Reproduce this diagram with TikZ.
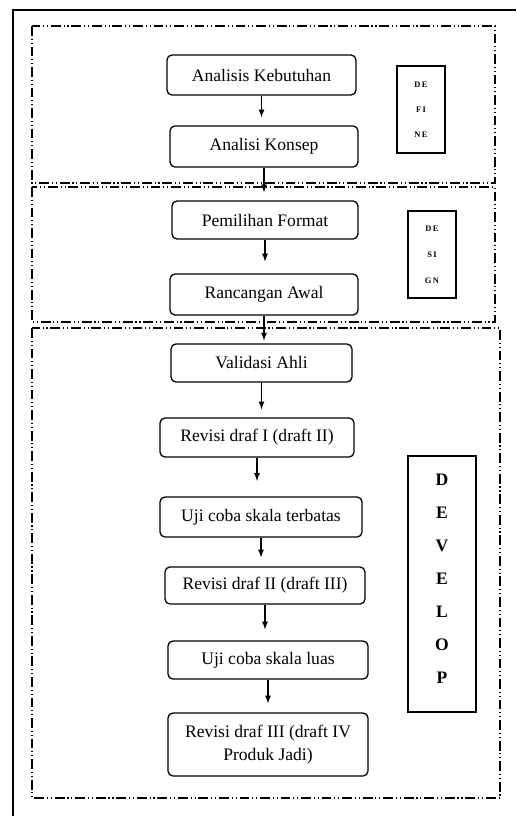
\documentclass[tikz,border=0pt]{standalone}
\usepackage{fontspec}
\setmainfont{Liberation Serif}
\usetikzlibrary{arrows,positioning}
\newcommand{\pxu}{0.025cm}

\begin{document}
\begin{tikzpicture}[x=0.025cm,y=-0.025cm,>=latex,
    stepnode/.style={draw,rounded corners=3.5pt,line width=0.9pt,inner sep=0pt,
      font=\fontsize{12.5}{16}\selectfont,align=center},
    phasebox/.style={draw,line width=0.9pt,inner sep=0pt,align=center},
    stageframe/.style={line width=0.8pt,dash pattern=on 7pt off 2pt on 0.8pt off 2pt on 0.8pt off 2pt},
    arr/.style={->,line width=0.9pt}]
	\useasboundingbox (0,0) rectangle (516,816);
	
	% outer frame
	\draw[line width=1pt] (13,816) -- (13,10) -- (516,10);
	
	% stage frames
	\draw[stageframe] (32,26) rectangle (495,183);
	\draw[stageframe] (32,187) rectangle (495,322);
	\draw[stageframe] (32,328) rectangle (500,798);
	
	\node[stepnode,minimum width=189*\pxu,minimum height=40*\pxu] (kebutuhan) at (261.5,75) {Analisis Kebutuhan};
	\node[stepnode,minimum width=188*\pxu,minimum height=41*\pxu] (konsep) at (264,146.5) {Analisi Konsep};
	\node[stepnode,minimum width=186*\pxu,minimum height=38*\pxu] (format) at (265,220) {Pemilihan Format};
	\node[stepnode,minimum width=188*\pxu,minimum height=41*\pxu] (rancangan) at (264,294.5) {Rancangan Awal};
	\node[stepnode,minimum width=181*\pxu,minimum height=38*\pxu] (validasi) at (261.5,363) {Validasi Ahli};
	\node[stepnode,minimum width=194*\pxu,minimum height=39*\pxu] (revisiA) at (257,437.5) {Revisi draf I (draft II)};
	\node[stepnode,minimum width=202*\pxu,minimum height=40*\pxu] (ujiA) at (261,517) {Uji coba skala terbatas};
	\node[stepnode,minimum width=200*\pxu,minimum height=37*\pxu] (revisiB) at (265,585.5) {Revisi draf II (draft III)};
	\node[stepnode,minimum width=200*\pxu,minimum height=38*\pxu] (ujiB) at (268,660) {Uji coba skala luas};
	\node[stepnode,minimum width=200*\pxu,minimum height=63*\pxu] (revisiC) at (268,744.5) {Revisi draf III (draft IV\\Produk Jadi)};
	
	% phase labels
	\node[phasebox,minimum width=48*\pxu,minimum height=87*\pxu,font=\fontsize{6}{17.8}\selectfont\bfseries] (define) at (421,109.5) {D\,E\\F\,I\\N\,E};
	\node[phasebox,minimum width=48*\pxu,minimum height=87*\pxu,font=\fontsize{6}{18.5}\selectfont\bfseries] (design) at (432,254.5) {D\,E\\S\,I\\G\,N};
	\node[phasebox,minimum width=68*\pxu,minimum height=256*\pxu,font=\fontsize{12.5}{23.5}\selectfont\bfseries] (develop) at (442,584) {D\\E\\V\\E\\L\\O\\P\\[-16.4pt]};
	
	\draw[arr,shorten >=5.7pt] (kebutuhan.south) -- (kebutuhan.south |- konsep.north);
	\draw[arr,shorten >=5.7pt] (konsep.south) -- (konsep.south |- format.north);
	\draw[arr,shorten >=8.5pt] (format.south) -- (format.south |- rancangan.north);
	\draw[arr,shorten >=2pt] (rancangan.south) -- (rancangan.south |- validasi.north);
	\draw[arr,shorten >=5.7pt] (validasi.south) -- (validasi.south |- revisiA.north);
	\draw[arr,shorten >=11pt] (revisiA.south) -- (revisiA.south |- ujiA.north);
	\draw[arr,shorten >=6.4pt] (ujiA.south) -- (ujiA.south |- revisiB.north);
	\draw[arr,shorten >=7.8pt] (revisiB.south) -- (revisiB.south |- ujiB.north);
	\draw[arr,shorten >=6.4pt] (ujiB.south) -- (ujiB.south |- revisiC.north);
\end{tikzpicture}
\end{document}
